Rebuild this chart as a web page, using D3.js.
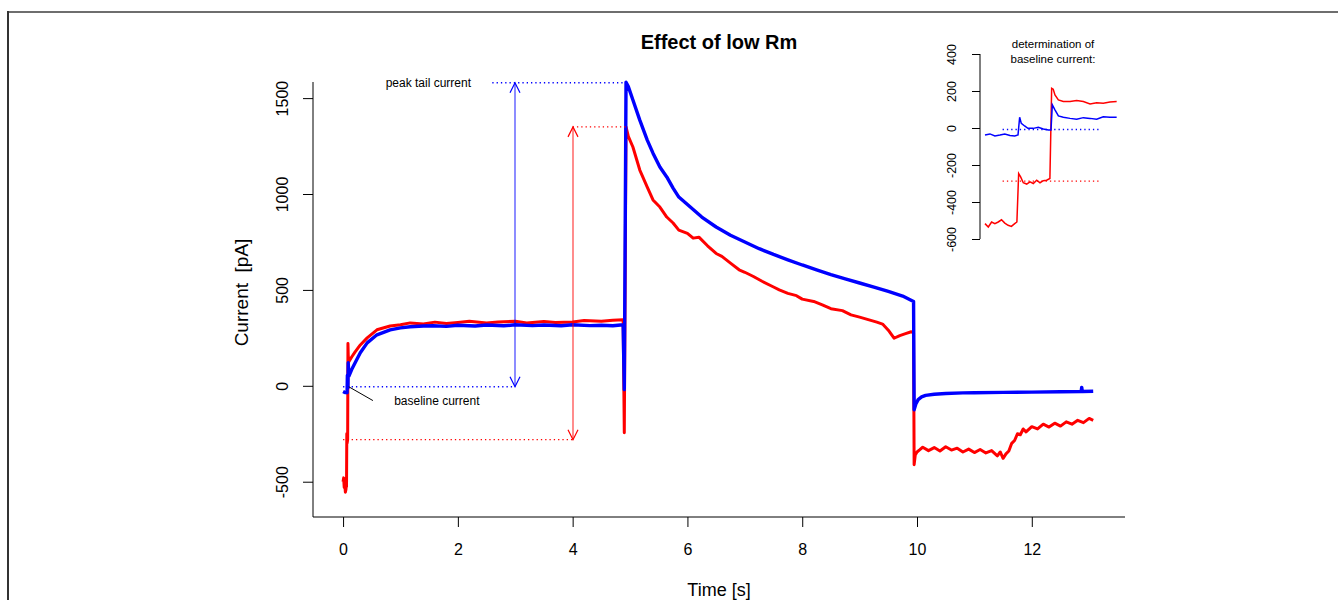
<!DOCTYPE html>
<html>
<head>
<meta charset="utf-8">
<script src="https://cdn.jsdelivr.net/npm/d3@7"></script>
<style>
  html, body { margin: 0; padding: 0; background: #fff; }
  svg { display: block; font-family: "Liberation Sans", Arial, sans-serif; }
</style>
</head>
<body>
<svg id="chart" width="1338" height="600"></svg>
<script>
// ---------------- DATA ----------------
const chartTitle = "Effect of low Rm";
const xLabel = "Time [s]";
const yLabel = "Current  [pA]";
const xTicks = [0, 2, 4, 6, 8, 10, 12];
const yTicks = [-500, 0, 500, 1000, 1500];
const insetTicks = [-600, -400, -200, 0, 200, 400];
const insetTitle = ["determination of", "baseline current:"];

// blue trace (time s, current pA)
const blueT = [0, 0.02, 0.04, 0.06, 0.07, 0.075, 0.08, 0.085, 0.09, 0.1, 0.15, 0.21, 0.3, 0.42, 0.59, 0.82, 1.0, 1.17, 1.4, 1.57, 1.8, 2.0, 2.3, 2.5, 2.8, 3.0, 3.3, 3.5, 3.8, 4.0, 4.3, 4.5, 4.7, 4.88,
  4.9, 4.93, 4.97, 5.05, 5.17, 5.3, 5.4, 5.52, 5.64, 5.75, 5.85, 6.0, 6.25, 6.5, 6.75, 7.0, 7.25, 7.5, 7.75, 8.0, 8.25, 8.5, 8.75, 9.0, 9.25, 9.5, 9.75, 9.94,
  9.95, 9.98, 10.02, 10.08, 10.15, 10.3, 10.5, 10.8, 11.0, 11.5, 12.0, 12.5, 12.86, 12.87, 12.88, 13.07];
const blueV = [-30, -33, -35, -32, -36, 55, 0, -10, 120, 50, 85, 120, 172, 224, 266, 292, 302, 308, 312, 313, 310, 316, 312, 317, 313, 318, 314, 317, 313, 318, 314, 316, 313, 318,
  -20, 1583, 1560, 1490, 1385, 1281, 1213, 1141, 1089, 1031, 984, 945, 880, 828, 785, 750, 715, 685, 657, 630, 605, 580, 558, 536, 515, 492, 468, 440,
  -125, -95, -72, -58, -50, -44, -40, -37, -36, -34, -33, -31, -30, -8, -30, -28];

// red trace (time s, current pA)
const redT = [0, 0.01, 0.02, 0.03, 0.04, 0.05, 0.055, 0.06, 0.065, 0.07, 0.075, 0.08, 0.085, 0.09, 0.1, 0.15, 0.21, 0.3, 0.42, 0.59, 0.82, 1.0, 1.17, 1.4, 1.6, 1.8, 2.0, 2.2, 2.5, 2.7, 3.0, 3.2, 3.5, 3.7, 4.0, 4.2, 4.5, 4.7, 4.88,
  4.9, 4.93, 4.97, 5.05, 5.17, 5.3, 5.4, 5.52, 5.64, 5.75, 5.85, 6.0, 6.1, 6.2, 6.35, 6.5, 6.6, 6.75, 6.9, 7.0, 7.15, 7.3, 7.5, 7.6, 7.75, 7.9, 8.0, 8.2, 8.35, 8.5, 8.7, 8.85, 9.0, 9.15, 9.3, 9.4, 9.5, 9.6, 9.7, 9.8, 9.9, 9.94,
  9.95, 9.97, 10.0, 10.05, 10.1, 10.2, 10.3, 10.4, 10.5, 10.6, 10.7, 10.8, 10.9, 11.0, 11.1, 11.2, 11.3, 11.4, 11.45, 11.5, 11.55, 11.6, 11.65, 11.7, 11.75, 11.8, 11.85, 11.9,
  12.0, 12.1, 12.2, 12.3, 12.4, 12.5, 12.6, 12.7, 12.8, 12.9, 13.0, 13.07];
const redV = [-500, -480, -530, -510, -555, -540, -520, -525, -250, -300, -290, -280, 220, 160, 125, 150, 177, 213, 250, 292, 312, 318, 328, 322, 332, 325, 330, 336, 328, 333, 337, 328, 335, 330, 333, 340, 336, 342, 345,
  -245, 1350, 1300, 1245, 1125, 1036, 969, 932, 880, 849, 812, 795, 770, 775, 730, 690, 675, 640, 605, 592, 570, 545, 515, 500, 482, 470, 452, 440, 422, 402, 392, 370, 358, 345, 332, 322, 290, 248, 262, 272, 282, 275,
  -411, -360, -345, -333, -320, -338, -322, -340, -318, -335, -325, -345, -330, -348, -332, -350, -338, -365, -345, -378, -355, -340, -300, -285, -250, -255, -225, -240,
  -213, -225, -200, -215, -195, -210, -188, -200, -180, -192, -170, -180];

// annotation values
const baselineBlue = -5, baselineRed = -281;
const peakBlue = 1580, peakRed = 1350;
const peakTime = 4.93;

// inset traces (time in ms, current pA)
const insetBlueT = [0, 4.5, 9, 13.6, 18, 22.7, 27, 30, 31.5, 33, 36, 39, 43.9, 48.5, 53, 57.6, 60, 61.2, 63.6, 66.7, 71.2, 77.3, 83.3, 89.4, 95.5, 101.5, 107.5, 113.6, 119.7];
const insetBlueV = [-38, -32, -43, -38, -32, -40, -43, -38, 58, 25, 11, -2, -2, 4, -5, -11, -11, 125, 98, 65, 58, 52, 47, 56, 52, 47, 61, 58, 58];
const insetRedT = [0, 3, 6, 9, 12, 15, 18, 21, 24, 27, 29, 30.6, 32.4, 34.8, 37.9, 40.9, 43.9, 47, 50, 53, 56, 59, 60.6, 62, 63.6, 66.7, 71.2, 77.3, 83.3, 89.4, 95.5, 101.5, 107.5, 113.6, 119.7];
const insetRedV = [-517, -535, -508, -517, -508, -496, -514, -526, -532, -517, -508, -246, -264, -296, -303, -291, -300, -282, -296, -285, -282, -273, 215, 210, 179, 152, 143, 143, 148, 143, 130, 137, 134, 141, 143];
const insetBaseBlue = -8, insetBaseRed = -287;
const insetDotRange = [16, 105];

// ---------------- DRAWING ----------------
const svg = d3.select("#chart");
const BLUE = "#0000ff", RED = "#ff0000";
const FONT = "Liberation Sans, Arial, sans-serif";

// outer frame
svg.append("line").attr("x1", 8).attr("y1", 12).attr("x2", 1338).attr("y2", 12)
  .attr("stroke", "#6e6e6e").attr("stroke-width", 2);
svg.append("line").attr("x1", 8).attr("y1", 11).attr("x2", 8).attr("y2", 600)
  .attr("stroke", "#333").attr("stroke-width", 2);

const x = d3.scaleLinear().domain([-0.524, 13.624]).range([313, 1125]);
const y = d3.scaleLinear().domain([-684, 1584]).range([517, 82]);

// L box
svg.append("path").attr("d", `M${x.range()[0]},${y.range()[1]}V${y.range()[0]}H${x.range()[1]}`)
  .attr("fill", "none").attr("stroke", "#000").attr("stroke-width", 1);

// x axis
const gx = svg.append("g").attr("transform", `translate(0,${y.range()[0]})`)
  .call(d3.axisBottom(x).tickValues(xTicks).tickSize(10).tickPadding(17).tickFormat(d => String(d)));
gx.select(".domain").remove();
gx.selectAll("text").attr("font-size", 16).attr("font-family", FONT).attr("fill", "#000");

// y axis
const gy = svg.append("g").attr("transform", `translate(${x.range()[0]},0)`)
  .call(d3.axisLeft(y).tickValues(yTicks).tickSize(10).tickFormat(d => String(d)));
gy.select(".domain").remove();
gy.selectAll("text")
  .attr("font-size", 16).attr("font-family", FONT).attr("fill", "#000")
  .attr("x", null).attr("dy", null)
  .attr("text-anchor", "middle").attr("dominant-baseline", "central")
  .attr("transform", "translate(-31,0) rotate(-90)");

// axis titles
svg.append("text").attr("x", (x.range()[0] + x.range()[1]) / 2).attr("y", 590)
  .attr("text-anchor", "middle").attr("dominant-baseline", "central")
  .attr("font-size", 18).text(xLabel);
svg.append("text").attr("transform", `translate(241,${(y.range()[0] + y.range()[1]) / 2 - 7}) rotate(-90)`)
  .attr("text-anchor", "middle").attr("dominant-baseline", "central")
  .attr("font-size", 19).style("white-space", "pre").text(yLabel);

// title
svg.append("text").attr("x", (x.range()[0] + x.range()[1]) / 2).attr("y", 42)
  .attr("text-anchor", "middle").attr("dominant-baseline", "central")
  .attr("font-size", 20).attr("font-weight", "bold").text(chartTitle);

// traces
const line = d3.line().x(d => x(d[0])).y(d => y(d[1]));
svg.append("path").datum(redT.map((t, i) => [t, redV[i]])).attr("d", line)
  .attr("fill", "none").attr("stroke", RED).attr("stroke-width", 3).attr("stroke-linejoin", "round");
svg.append("path").datum(blueT.map((t, i) => [t, blueV[i]])).attr("d", line)
  .attr("fill", "none").attr("stroke", BLUE).attr("stroke-width", 3.4).attr("stroke-linejoin", "round");

// dotted guide lines
function dotted(t0, t1, v, color) {
  svg.append("line").attr("x1", x(t0)).attr("x2", x(t1)).attr("y1", y(v)).attr("y2", y(v))
    .attr("stroke", color).attr("stroke-width", 1.3).attr("stroke-dasharray", "1.3,3");
}
dotted(0, 3, baselineBlue, BLUE);
dotted(0, 4, baselineRed, RED);
dotted(2.6, peakTime, peakBlue, BLUE);
dotted(4, peakTime, peakRed, RED);

// double arrows
function dblArrow(t, v0, v1, color) {
  const X = Math.round(x(t)), Y0 = y(v0), Y1 = y(v1);
  svg.append("line").attr("x1", X).attr("x2", X).attr("y1", Y0).attr("y2", Y1)
    .attr("stroke", color).attr("stroke-width", 1.2).attr("opacity", 0.75);
  const hw = 5, hl = 10;
  svg.append("path").attr("d", `M${X - hw},${Y1 + hl}L${X},${Y1}L${X + hw},${Y1 + hl}`)
    .attr("fill", "none").attr("stroke", color).attr("stroke-width", 1.2);
  svg.append("path").attr("d", `M${X - hw},${Y0 - hl}L${X},${Y0}L${X + hw},${Y0 - hl}`)
    .attr("fill", "none").attr("stroke", color).attr("stroke-width", 1.2);
}
dblArrow(3, baselineBlue, peakBlue, BLUE);
dblArrow(4, baselineRed, peakRed, RED);

// text annotations
svg.append("text").attr("x", x(2.23)).attr("y", y(peakBlue))
  .attr("text-anchor", "end").attr("dominant-baseline", "central").attr("font-size", 12)
  .text("peak tail current");
svg.append("line").attr("x1", x(0.1)).attr("y1", y(baselineBlue)).attr("x2", x(0.52)).attr("y2", y(-77))
  .attr("stroke", "#000").attr("stroke-width", 1);
svg.append("text").attr("x", x(0.89)).attr("y", y(-77))
  .attr("text-anchor", "start").attr("dominant-baseline", "central").attr("font-size", 12)
  .text("baseline current");

// ---------------- INSET ----------------
const ix = d3.scaleLinear().domain([0, 120]).range([985, 1117]);
const iy = d3.scaleLinear().domain([-600, 400]).range([239, 54]);

const giy = svg.append("g").attr("transform", "translate(980,0)")
  .call(d3.axisLeft(iy).tickValues(insetTicks).tickSize(8).tickSizeOuter(0).tickFormat(d => String(d)));
giy.select(".domain").attr("d", `M0,${iy(-600)}V${iy(400)}`).attr("stroke", "#000");
giy.selectAll("text")
  .attr("font-size", 12.5).attr("font-family", FONT).attr("fill", "#000")
  .attr("x", null).attr("dy", null)
  .attr("text-anchor", "middle").attr("dominant-baseline", "central")
  .attr("transform", "translate(-28,0) rotate(-90)");

insetTitle.forEach((s, i) => {
  svg.append("text").attr("x", 1053).attr("y", 44 + i * 15)
    .attr("text-anchor", "middle").attr("dominant-baseline", "central")
    .attr("font-size", 11.5).text(s);
});

const iline = d3.line().x(d => ix(d[0])).y(d => iy(d[1]));
[[insetBaseBlue, BLUE], [insetBaseRed, RED]].forEach(([v, c]) => {
  svg.append("line").attr("x1", ix(insetDotRange[0])).attr("x2", ix(insetDotRange[1]))
    .attr("y1", iy(v)).attr("y2", iy(v))
    .attr("stroke", c).attr("stroke-width", 1.3).attr("stroke-dasharray", "1.3,3");
});
svg.append("path").datum(insetRedT.map((t, i) => [t, insetRedV[i]])).attr("d", iline)
  .attr("fill", "none").attr("stroke", RED).attr("stroke-width", 1.5);
svg.append("path").datum(insetBlueT.map((t, i) => [t, insetBlueV[i]])).attr("d", iline)
  .attr("fill", "none").attr("stroke", BLUE).attr("stroke-width", 1.5);
</script>
</body>
</html>
